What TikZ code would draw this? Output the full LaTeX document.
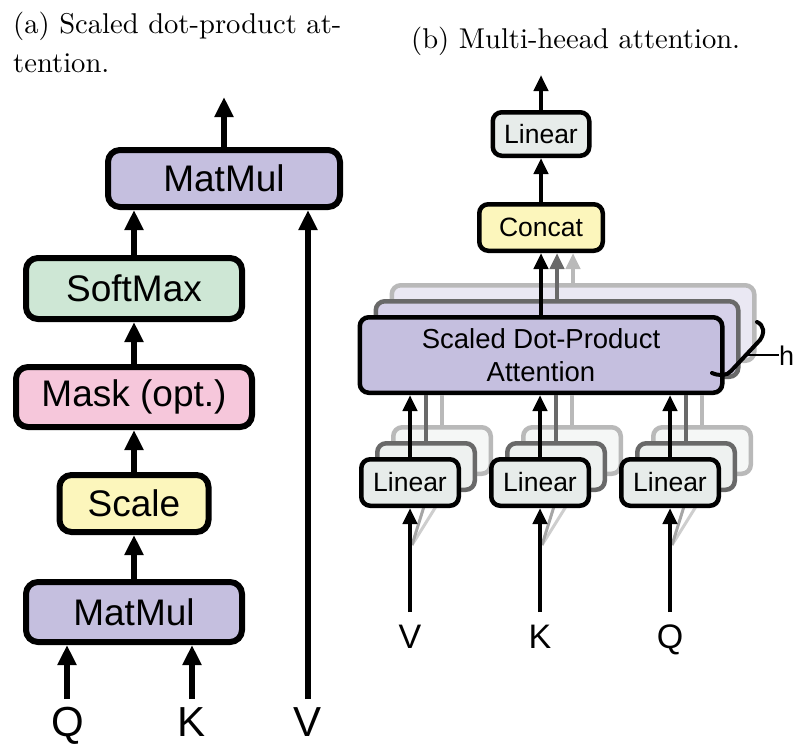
\documentclass[tikz,border=0pt]{standalone}
\usepackage{fontspec}
\newfontfamily\hel{Liberation Sans}
\newfontfamily\capfont{lmroman10-regular}[Extension=.otf]
\usetikzlibrary{arrows.meta,shadows}
\definecolor{mmc}{RGB}{197,191,223}
\definecolor{smc}{RGB}{206,231,213}
\definecolor{mkc}{RGB}{246,199,219}
\definecolor{scc}{RGB}{252,246,188}
\definecolor{lnc}{RGB}{231,236,234}
\definecolor{sdtwo}{RGB}{214,209,233}
\definecolor{sdthree}{RGB}{234,232,243}
\definecolor{lntwo}{RGB}{238,241,240}
\definecolor{lnthree}{RGB}{245,247,246}
\definecolor{grtwo}{RGB}{105,105,105}
\definecolor{grthree}{RGB}{185,185,185}
\begin{document}
\begin{tikzpicture}[x=1pt,y=-1pt,
  boxa/.style={draw=black, line width=6pt, rounded corners=12pt, inner sep=0pt,
    font=\hel\fontsize{37}{40}\selectfont,
    drop shadow={opacity=0.2,shadow xshift=2pt,shadow yshift=-2pt}},
  boxb/.style={draw=black, line width=4.5pt, rounded corners=9pt, inner sep=0pt, align=center,
    font=\hel\fontsize{26.5}{33}\selectfont},
  shb/.style={drop shadow={opacity=0.2,shadow xshift=2pt,shadow yshift=-2pt}},
  arra/.style={line width=6pt, -{Triangle[width=18pt,length=20pt]}},
  arrb/.style={line width=4.5pt, -{Triangle[width=14pt,length=16pt]}},
  linb/.style={line width=4.5pt},
  laba/.style={font=\hel\fontsize{42}{42}\selectfont, anchor=base, inner sep=0pt},
  labb/.style={font=\hel\fontsize{34}{34}\selectfont, anchor=base, inner sep=0pt},
  captxt/.style={font=\capfont\fontsize{28.6}{38}\selectfont, anchor=base west, inner sep=0pt},
  lin/.style={boxb, minimum width=97.5pt, minimum height=46.5pt},
  linback/.style={lin, draw=grtwo, fill=lntwo},
  linbackb/.style={lin, draw=grthree, fill=lnthree},
]
\path[use as bounding box] (0,0) rectangle (794,745);

% captions
\node[captxt] (capa1) at (13,33) {(a) Scaled dot-product at-};
\node[captxt] (capa2) at (13,72) {tention.};
\node[captxt] (capb) at (411,48) {(b) Multi-heead attention.};

% ---------------- panel (a)
\node[boxa, fill=mmc, minimum width=232pt, minimum height=57pt] (mm2) at (224,178.5) {MatMul};
\node[boxa, fill=smc, minimum width=216pt, minimum height=61pt] (sm) at (134,288.5) {SoftMax};
\node[boxa, fill=mkc, minimum width=236pt, minimum height=60pt] (mk) at (134,397) {Mask (opt.)};
\node[boxa, fill=scc, minimum width=149pt, minimum height=57pt] (sc) at (134,503.5) {Scale};
\node[boxa, fill=mmc, minimum width=216pt, minimum height=60pt] (mm1) at (134,612) {MatMul};

\coordinate (outa) at (224,97);
\coordinate (qa) at (67,699);
\coordinate (ka) at (192,699);
\coordinate (va) at (308,699);

\draw[arra] (mm1) -- (sc);
\draw[arra] (sc) -- (mk);
\draw[arra] (mk) -- (sm);
\draw[arra] (sm.north) -- (sm.north |- mm2.south);
\draw[arra] (mm2.north) -- (outa);
\draw[arra] (qa) -- (qa |- mm1.south);
\draw[arra] (ka) -- (ka |- mm1.south);
\draw[arra] (va) -- (va |- mm2.south);

\node[laba] (Qa) at (68,736) {Q};
\node[laba] (Ka) at (192,736) {K};
\node[laba] (Va) at (308,736) {V};

% ---------------- panel (b)
\node[boxb, draw=grthree, fill=sdthree, minimum width=362.5pt, minimum height=75.5pt] (sd3) at (573,323) {};
\node[boxb, draw=grtwo, fill=sdtwo, minimum width=362.5pt, minimum height=75.5pt] (sd2) at (557,339) {};
\node[boxb, shb, fill=mmc, minimum width=362.5pt, minimum height=75.5pt,
  font=\hel\fontsize{27.5}{33}\selectfont] (sd) at (541,355) {Scaled Dot-Product\\Attention};

\node[boxb, shb, fill=scc, minimum width=123.5pt, minimum height=46.5pt] (cc) at (541,227.5) {Concat};
\node[boxb, shb, fill=lnc, minimum width=96.5pt, minimum height=43.5pt] (lt) at (541,134) {Linear};
\coordinate (outb) at (541,75);

\draw[arrb, grthree] (sd3.north) -- (sd3.north |- cc.south);
\draw[arrb, grtwo] (sd2.north) -- (sd2.north |- cc.south);
\draw[arrb] (sd.north) -- (cc.south);
\draw[arrb] (cc) -- (lt);
\draw[arrb] (lt.north) -- (outb);

% linear stacks
\foreach \g/\x in {1/410,2/540,3/670}{
  \draw[line width=3pt, grthree!70] (\x+2,545) -- (\x+30,500);
  \draw[line width=3pt, grtwo!60] (\x+2,545) -- (\x+16,500);
  \node[linbackb] (lc\g) at (\x+32,450.5) {};
  \node[linback] (lb\g) at (\x+16,466.5) {};
  \node[lin, shb, fill=lnc] (l\g) at (\x,482.5) {Linear};
  \draw[linb, grthree] (lc\g.north) -- (lc\g.north |- sd.south);
  \draw[linb, grtwo] (lb\g.north) -- (lb\g.north |- sd.south);
  \draw[arrb] (l\g.north) -- (l\g.north |- sd.south);
}

\coordinate (vb) at (410,612);
\coordinate (kb) at (540,612);
\coordinate (qb) at (670,612);
\draw[arrb] (vb) -- (l1);
\draw[arrb] (kb) -- (l2);
\draw[arrb] (qb) -- (l3);
\node[labb] (Vb) at (410,648) {V};
\node[labb] (Kb) at (540,648) {K};
\node[labb] (Qb) at (670,648) {Q};

% brace and h
\draw[line width=4pt, line cap=round] (757,322) .. controls (764,325) and (765,333) .. (760,340)
  -- (731,371) .. controls (727,376) and (719,376) .. (712,373);
\coordinate (hs) at (748,355);
\node[font=\hel\fontsize{27}{27}\selectfont, anchor=base west, inner sep=0pt] (hl) at (779,365) {h};
\draw[line width=2.5pt] (hs) -- (hs -| hl.west);
\end{tikzpicture}
\end{document}
